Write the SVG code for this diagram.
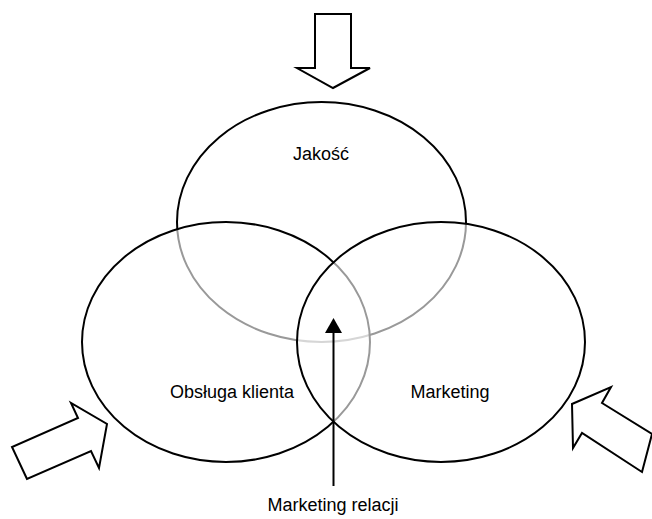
<svg xmlns="http://www.w3.org/2000/svg" width="652" height="519" viewBox="0 0 652 519">
<style>
.ell{fill:#fff;fill-opacity:0.6;stroke:#000;stroke-width:2}
.blk{fill:#fff;stroke:#000;stroke-width:2;stroke-linejoin:miter}
.lbl{font-family:"Liberation Sans",Arial,sans-serif;font-size:18px;fill:#000;text-anchor:middle}
</style>
<rect width="652" height="519" fill="#fff"/>
<g id="arrow-top"><polygon class="blk" points="315,14 351,14 351,68 370,68 333,88 297,68 315,68"/></g>
<g id="arrow-left"><polygon class="blk" points="27,479 12,447 78,418 71,403 107,424 99,468 91,451"/></g>
<g id="arrow-right"><polygon class="blk" points="642,472 652,434 602,403 611,387 572,404 573,448 582,433"/></g>
<g id="jakosc"><ellipse class="ell" cx="321.5" cy="222" rx="144.5" ry="120"/><text class="lbl" x="321" y="160">Jakość</text></g>
<g id="obsluga"><ellipse class="ell" cx="226" cy="342" rx="144" ry="120"/><text class="lbl" x="232" y="398">Obsługa klienta</text></g>
<g id="marketing"><ellipse class="ell" cx="441" cy="342" rx="144" ry="120"/><text class="lbl" x="450" y="398">Marketing</text></g>
<g id="connectors"><line x1="333.5" y1="486" x2="333.5" y2="333" stroke="#000" stroke-width="2"/><path d="M333.5,318 L342,333 L325,333 Z" fill="#000"/></g>
<g id="relacji"><text class="lbl" x="333" y="511">Marketing relacji</text></g>
</svg>
